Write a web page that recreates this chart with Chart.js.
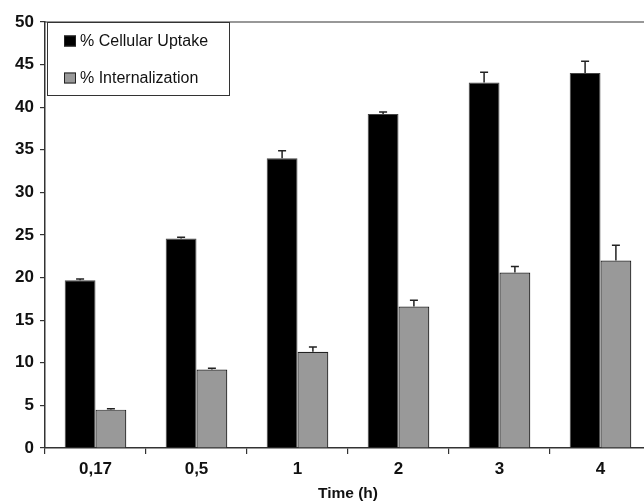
<!DOCTYPE html>
<html lang="en">
<head>
    <meta charset="UTF-8">
    <title>Cellular uptake</title>
    <script src="https://cdn.jsdelivr.net/npm/chart.js"></script>
    <style>
        html, body { margin: 0; padding: 0; overflow: hidden; background: #fff; }
        #wrap { width: 652px; height: 503px; }
    </style>
</head>
<body>
    <div id="wrap"><canvas id="Chart" width="652" height="503"></canvas></div>
    <script>
        // values
        const categories = ['0,17', '0,5', '1', '2', '3', '4'];
        const uptake = [19.7, 24.6, 34.0, 39.2, 42.9, 44.0];
        const uptakeErr = [0.15, 0.15, 0.9, 0.25, 1.2, 1.4];
        const internal = [4.5, 9.2, 11.3, 16.6, 20.6, 22.0];
        const internalErr = [0.1, 0.15, 0.55, 0.75, 0.7, 1.8];
        const seriesNames = ['% Cellular Uptake', '% Internalization'];

        const font = "'Liberation Sans', Arial, sans-serif";

        // one-sided error bars on top of each bar
        const errorBars = {
            id: 'errorBars',
            afterDatasetsDraw(chart) {
                const ctx = chart.ctx;
                const y = chart.scales.y;
                chart.data.datasets.forEach((ds, i) => {
                    const meta = chart.getDatasetMeta(i);
                    meta.data.forEach((bar, j) => {
                        const top = y.getPixelForValue(ds.data[j] + ds.errors[j]);
                        ctx.save();
                        ctx.strokeStyle = '#222';
                        ctx.lineWidth = 1.5;
                        ctx.beginPath();
                        ctx.moveTo(bar.x, bar.y);
                        ctx.lineTo(bar.x, top);
                        ctx.moveTo(bar.x - 4, top);
                        ctx.lineTo(bar.x + 4, top);
                        ctx.stroke();
                        ctx.restore();
                    });
                });
            }
        };

        // frame line on top and boxed legend inside the plot
        const frameLegend = {
            id: 'frameLegend',
            afterDraw(chart) {
                const ctx = chart.ctx;
                const a = chart.chartArea;
                ctx.save();
                ctx.strokeStyle = '#333';
                ctx.lineWidth = 1.2;
                ctx.beginPath();
                ctx.moveTo(a.left - 1, a.top);
                ctx.lineTo(a.right, a.top);
                ctx.lineTo(a.right, a.bottom);
                ctx.stroke();

                const bx = 47, by = a.top, bw = 182, bh = 73;
                ctx.lineWidth = 1;
                ctx.strokeRect(bx + 0.5, by + 0.5, bw, bh);
                ctx.font = '16px ' + font;
                ctx.textBaseline = 'middle';
                const rows = [by + 19, by + 56];
                chart.data.datasets.forEach((ds, i) => {
                    const cy = rows[i];
                    ctx.fillStyle = ds.backgroundColor;
                    ctx.fillRect(bx + 17, cy - 5.5, 12, 11);
                    ctx.strokeStyle = '#222';
                    ctx.strokeRect(bx + 17.5, cy - 5, 11, 10);
                    ctx.fillStyle = '#111';
                    ctx.fillText(ds.label, bx + 33, cy + 1);
                });
                ctx.restore();
            }
        };

        new Chart(document.getElementById('Chart'), {
            type: 'bar',
            data: {
                labels: categories,
                datasets: [{
                    label: seriesNames[0],
                    data: uptake,
                    errors: uptakeErr,
                    backgroundColor: '#000000',
                    borderColor: '#444',
                    borderWidth: 1
                }, {
                    label: seriesNames[1],
                    data: internal,
                    errors: internalErr,
                    backgroundColor: '#999999',
                    borderColor: '#222',
                    borderWidth: 1.2
                }]
            },
            options: {
                responsive: false,
                animation: false,
                layout: { padding: { top: 22, right: 1, left: 0, bottom: 0 } },
                datasets: { bar: { categoryPercentage: 0.61, barPercentage: 1 } },
                plugins: { legend: { display: false }, tooltip: { enabled: false } },
                scales: {
                    x: {
                        afterFit(s) { s.height = 55; },
                        grid: { drawOnChartArea: false, drawTicks: true, tickLength: 6, color: '#333', lineWidth: 1.2 },
                        border: { color: '#333', width: 1.5 },
                        ticks: { color: '#111', padding: 5, font: { family: font, size: 17, weight: 'bold' } },
                        title: {
                            display: true,
                            text: 'Time (h)',
                            color: '#111',
                            padding: { top: 0, bottom: 0 },
                            font: { family: font, size: 15.5, weight: 'bold' }
                        }
                    },
                    y: {
                        min: 0,
                        max: 50,
                        afterFit(s) { s.width = 45; },
                        grid: { drawOnChartArea: false, drawTicks: true, tickLength: 5, color: '#333', lineWidth: 1.2 },
                        border: { color: '#333', width: 1.5 },
                        ticks: { stepSize: 5, color: '#111', padding: 6, font: { family: font, size: 17, weight: 'bold' } }
                    }
                }
            },
            plugins: [errorBars, frameLegend]
        });
    </script>
</body>
</html>
